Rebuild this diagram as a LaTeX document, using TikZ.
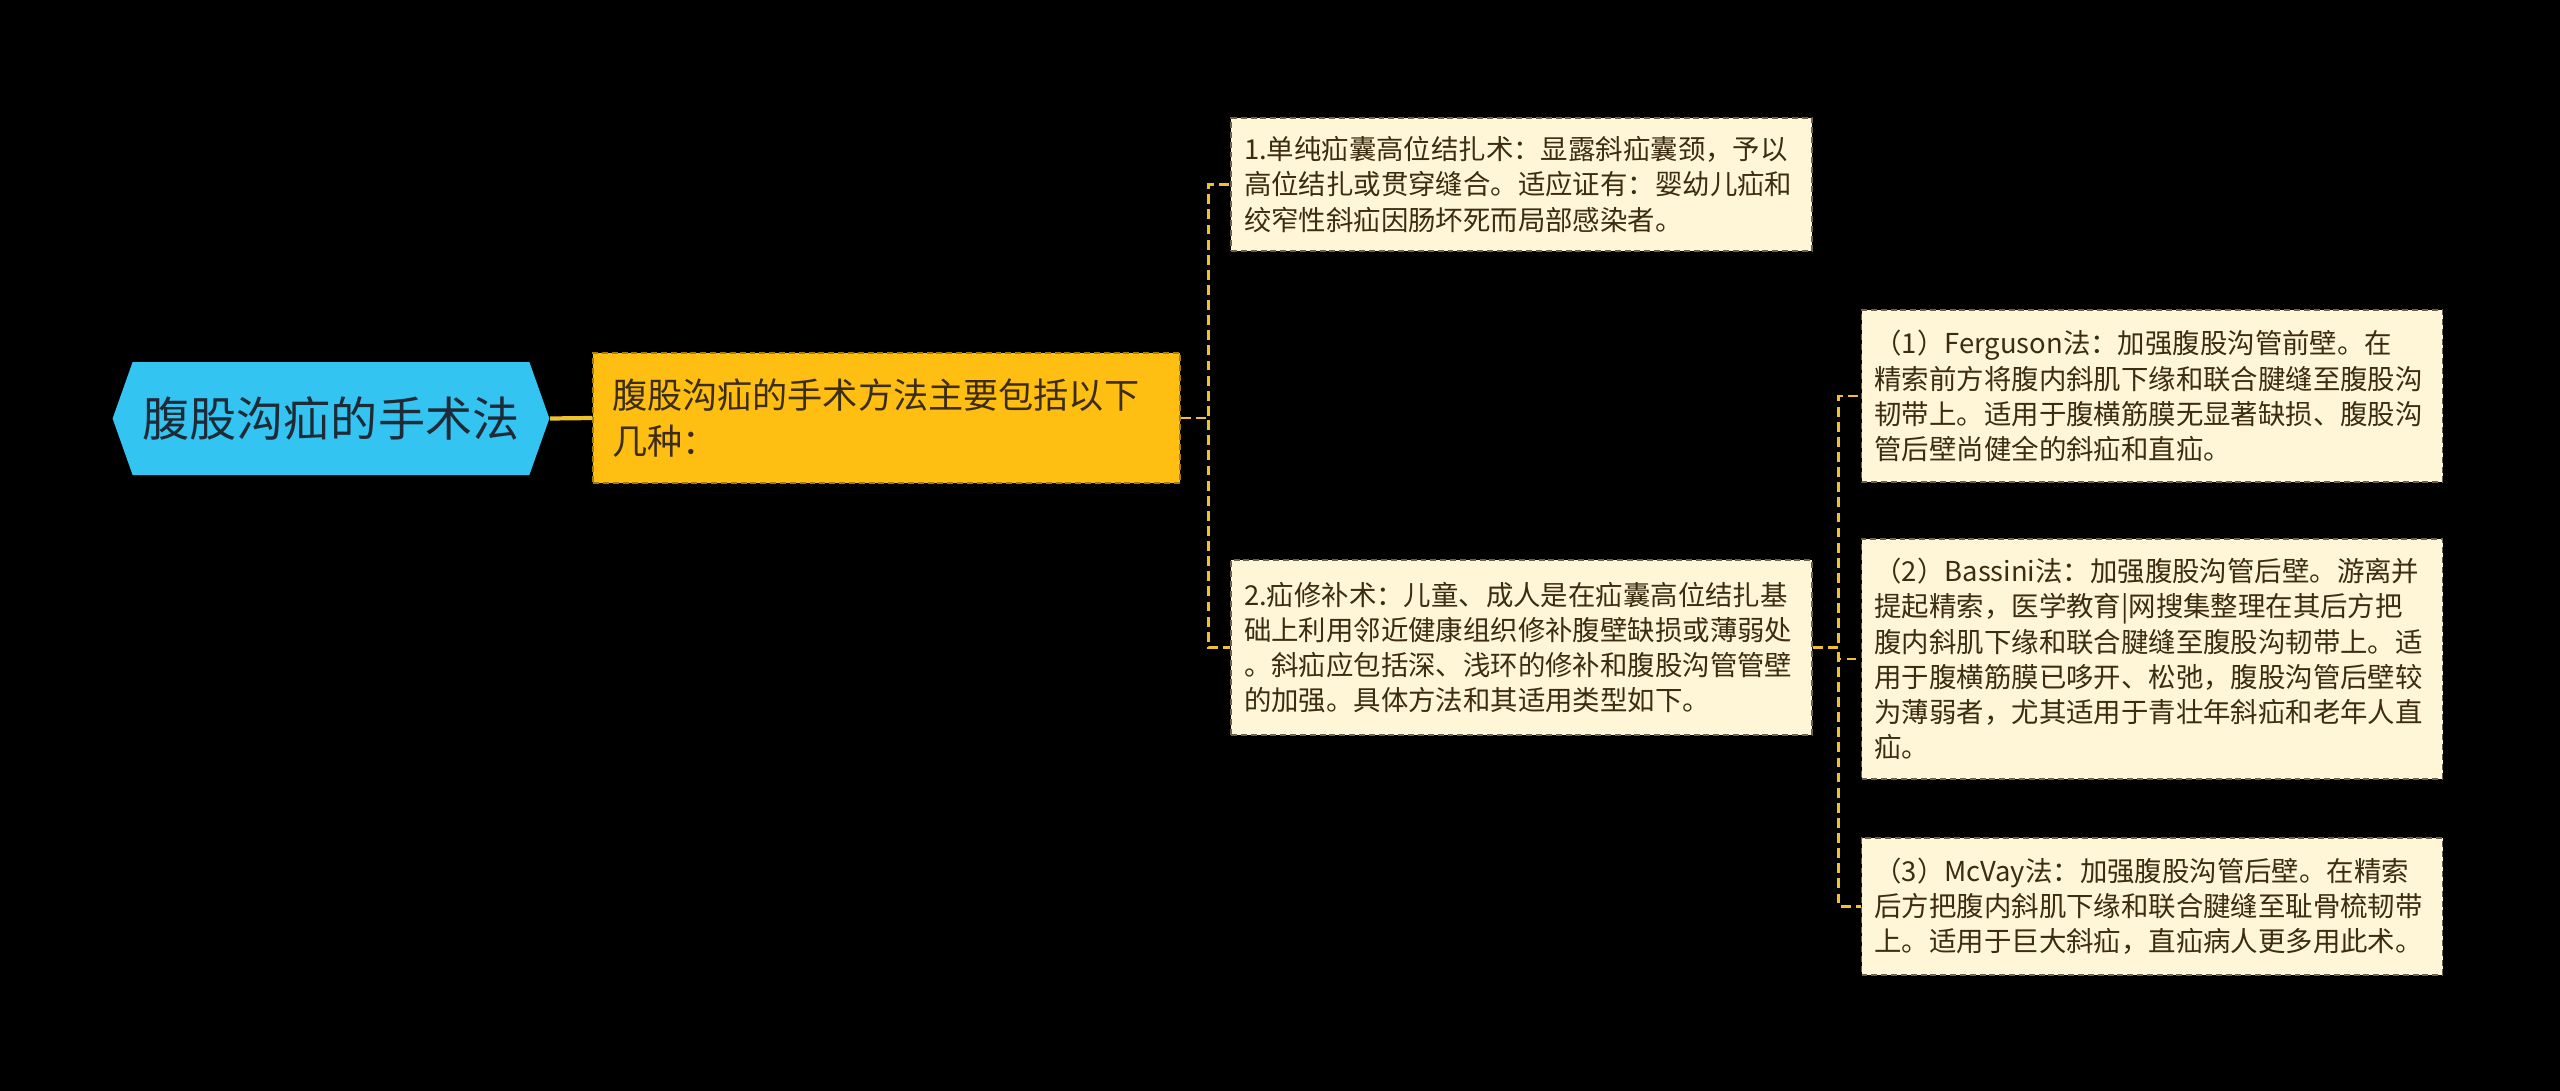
\documentclass[tikz,border=0pt]{standalone}
\usepackage{fontspec}
\setmainfont{Noto Sans CJK SC}
\usetikzlibrary{shapes.symbols}
\definecolor{rootblue}{HTML}{33C4F2}
\definecolor{subgold}{HTML}{FFBF12}
\definecolor{leafcream}{HTML}{FFF5D7}
\definecolor{linegold}{HTML}{F2C12E}
\definecolor{textdark}{HTML}{3B2C12}
\definecolor{roottext}{HTML}{1E2A36}
\tikzset{
  leafbox/.style={draw=textdark!75, dash pattern=on 1.7pt off 1.1pt, fill=leafcream, text=textdark,
    align=left, text width=5.55cm, inner xsep=0.13cm, font=\fontsize{7.8}{10}\selectfont},
  link/.style={draw=linegold, line width=0.8pt, dash pattern=on 2.8pt off 1.5pt},
}
\begin{document}
\begin{tikzpicture}

    % 背景
    \fill[black] (0,0) rectangle (25.6,-10.91);
    \useasboundingbox (0,0) rectangle (25.6,-10.91);

    % 根节点
    \node[signal, signal to=west and east, signal pointer angle=141, fill=rootblue, text=roottext, inner xsep=0.1cm,
      minimum width=4.26cm, minimum height=1.13cm, font=\fontsize{13.4}{16}\selectfont] (root) at (3.31,-4.185) {腹股沟疝的手术法};

    % 二级节点
    \node[fill=subgold, draw=subgold!65!black, dash pattern=on 1.7pt off 1.1pt, text=textdark, align=left,
      text width=5.49cm, inner xsep=0.19cm, minimum height=1.30cm, font=\fontsize{10}{13}\selectfont] (sub) at (8.865,-4.18)
      {腹股沟疝的手术方法主要包括以下\\几种：};

    % 三级节点
    \node[leafbox, minimum height=1.33cm] (m1) at (15.215,-1.845)
      {1.单纯疝囊高位结扎术：显露斜疝囊颈，予以\\高位结扎或贯穿缝合。适应证有：婴幼儿疝和\\绞窄性斜疝因肠坏死而局部感染者。};
    \node[leafbox, minimum height=1.75cm] (m2) at (15.215,-6.475)
      {2.疝修补术：儿童、成人是在疝囊高位结扎基\\础上利用邻近健康组织修补腹壁缺损或薄弱处\\。斜疝应包括深、浅环的修补和腹股沟管管壁\\的加强。具体方法和其适用类型如下。};

    % 四级节点
    \node[leafbox, minimum height=1.72cm] (f1) at (21.52,-3.96)
      {（1）Ferguson法：加强腹股沟管前壁。在\\精索前方将腹内斜肌下缘和联合腱缝至腹股沟\\韧带上。适用于腹横筋膜无显著缺损、腹股沟\\管后壁尚健全的斜疝和直疝。};
    \node[leafbox, minimum height=2.40cm] (f2) at (21.52,-6.59)
      {（2）Bassini法：加强腹股沟管后壁。游离并\\提起精索，医学教育|网搜集整理在其后方把\\腹内斜肌下缘和联合腱缝至腹股沟韧带上。适\\用于腹横筋膜已哆开、松弛，腹股沟管后壁较\\为薄弱者，尤其适用于青壮年斜疝和老年人直\\疝。};
    \node[leafbox, minimum height=1.37cm] (f3) at (21.52,-9.065)
      {（3）McVay法：加强腹股沟管后壁。在精索\\后方把腹内斜肌下缘和联合腱缝至耻骨梳韧带\\上。适用于巨大斜疝，直疝病人更多用此术。};

    % 连线
    \draw[linegold, line width=1.2pt] (root.east) -- (sub.west);
    \draw[link] (sub.east) -- ++(0.28,0) |- (m1.west);
    \draw[link] (sub.east) -- ++(0.28,0) |- (m2.west);
    \draw[link] (m2.east) -- ++(0.26,0) |- (f1.west);
    \draw[link] (m2.east) -- ++(0.26,0) |- (f2.west);
    \draw[link] (m2.east) -- ++(0.26,0) |- (f3.west);

\end{tikzpicture}
\end{document}
